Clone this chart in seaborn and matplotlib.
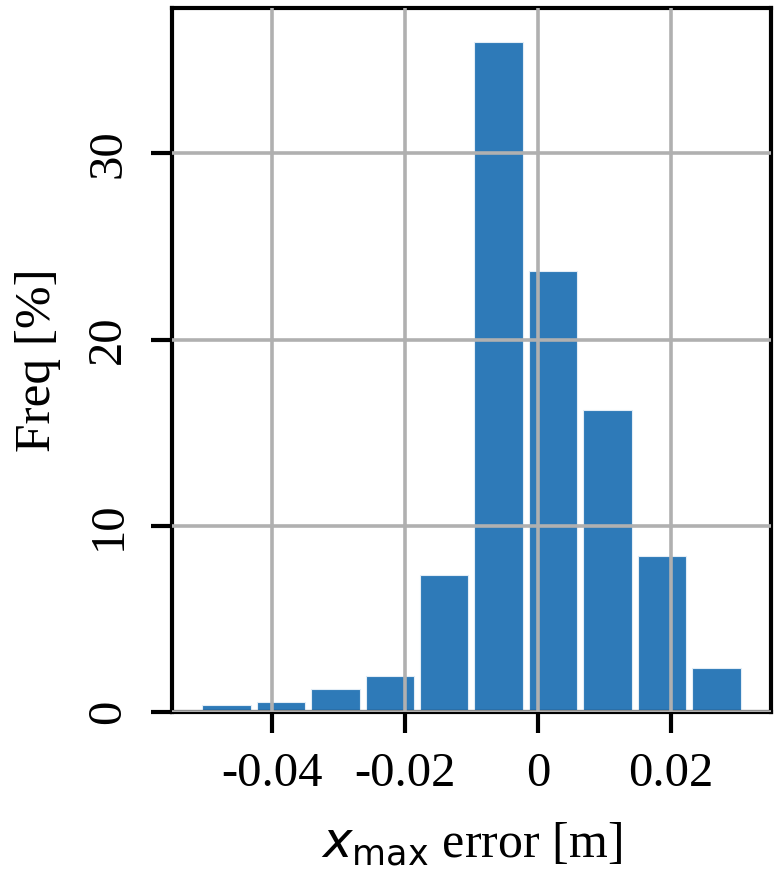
import numpy as np
import pandas as pd
import matplotlib
matplotlib.use("Agg")
import matplotlib.pyplot as plt
import seaborn as sns

# histogram: 10 equal bins over the error range, frequency (%) per bin
bin_lo, bin_hi, n_bins = -0.0509, 0.0309, 10
freq_pct = [0.36, 0.54, 1.24, 1.94, 7.37, 36.0, 23.66, 16.24, 8.39, 2.37]
xtick_vals = [-0.04, -0.02, 0.0, 0.02]
xtick_labels = ["-0.04", "-0.02", "0", "0.02"]
ytick_vals = [0, 10, 20, 30]

bin_edges = np.linspace(bin_lo, bin_hi, n_bins + 1)
centers = (bin_edges[:-1] + bin_edges[1:]) / 2
df = pd.DataFrame({"err": centers, "freq": freq_pct})

sns.set_style("white")
plt.rcParams["font.family"] = ["Liberation Serif", "DejaVu Serif"]
plt.rcParams["mathtext.fontset"] = "dejavusans"
plt.rcParams["axes.unicode_minus"] = False
plt.rcParams["axes.axisbelow"] = False
plt.rcParams["text.color"] = "black"
plt.rcParams["axes.labelcolor"] = "black"
plt.rcParams["xtick.color"] = "black"
plt.rcParams["ytick.color"] = "black"

fig, ax = plt.subplots(figsize=(7.81, 8.92), dpi=100)
fig.subplots_adjust(left=0.2202, right=0.9872, top=0.991, bottom=0.2018)

sns.histplot(data=df, x="err", weights="freq", bins=list(bin_edges), shrink=0.89,
             color="#2e7ab8", alpha=1.0, edgecolor="#e3edf6", linewidth=0.8, ax=ax)

ax.grid(True, color="#b0b0b0", linewidth=2.6)
ax.set_xticks(xtick_vals)
ax.set_xticklabels(xtick_labels)
ax.set_yticks(ytick_vals)
span = bin_hi - bin_lo
ax.set_xlim(bin_lo - 0.05 * span, bin_hi + 0.05 * span)
ax.set_ylim(0, max(freq_pct) * 1.05)

for sp in ax.spines.values():
    sp.set_visible(True)
    sp.set_color("black")
    sp.set_linewidth(3.0)

ax.tick_params(axis="both", direction="out", length=15, width=3.0,
               labelsize=35, left=True, bottom=True)
ax.tick_params(axis="x", pad=14)
ax.tick_params(axis="y", pad=15)
for lab in ax.get_yticklabels():
    lab.set_rotation(90)
    lab.set_va("center")

ax.set_xlabel(r"$x_{\mathrm{max}}$ error [m]", fontsize=36, labelpad=18)
ax.set_ylabel("Freq [%]", fontsize=37, labelpad=18)

plt.savefig("out.png", dpi=100)
plt.close()
